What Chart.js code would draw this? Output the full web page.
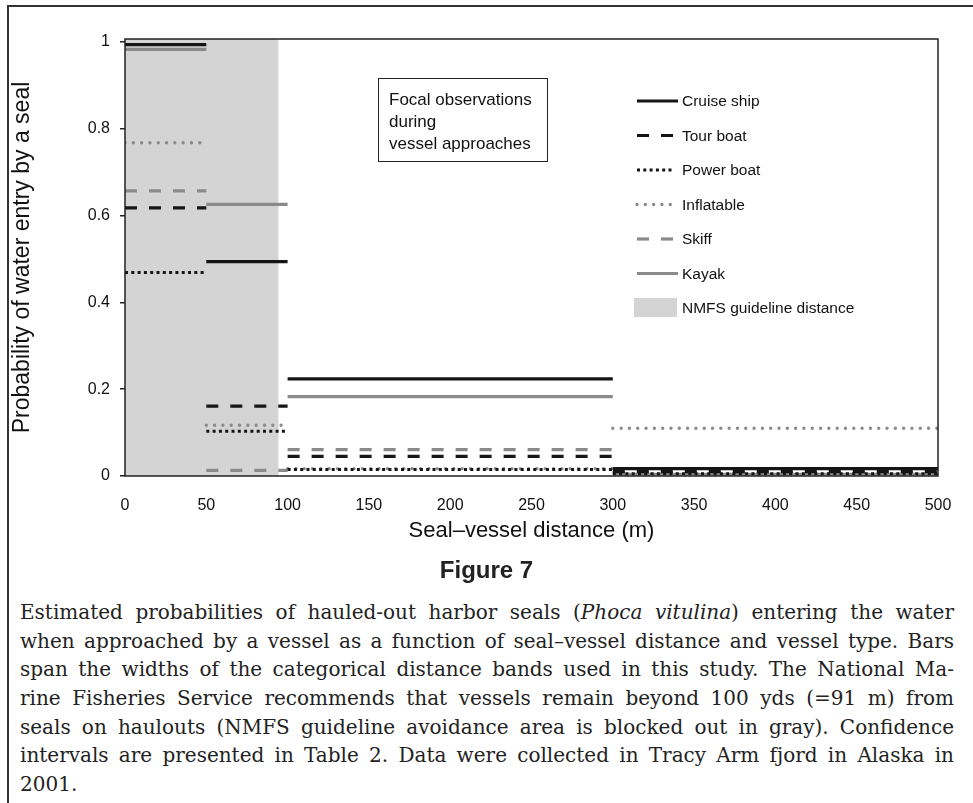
<!DOCTYPE html>
<html>
<head>
<meta charset="utf-8">
<script src="https://cdn.jsdelivr.net/npm/chart.js@4.4.1/dist/chart.umd.min.js"></script>
<style>
  html, body { margin: 0; padding: 0; background: #fff; }
  body { width: 973px; height: 803px; position: relative; overflow: hidden; }
  #frame { position: absolute; left: 7px; top: 5px; width: 980px; height: 820px;
           border-top: 2px solid #333; border-left: 2px solid #333; }
  #chart { position: absolute; left: 0; top: 0; }
  #figtitle { position: absolute; left: 0; top: 556px; width: 973px; text-align: center;
              font-family: "Liberation Sans Narrow", "Arial Narrow", "Liberation Sans", sans-serif;
              font-weight: bold; font-size: 24px; color: #222; }
  #caption { position: absolute; left: 20px; top: 598px; width: 934px;
             font-family: "DejaVu Serif", "Liberation Serif", serif; font-size: 17px; color: #222; }
  #caption div { height: 28.7px; line-height: 28.7px; text-align: justify; text-align-last: justify; }
  #caption div.last { text-align-last: left; }
  #measure { position: absolute; visibility: hidden; white-space: nowrap;
             font-family: "DejaVu Serif", "Liberation Serif", serif; font-size: 17px; }
</style>
</head>
<body>
<div id="frame"></div>
<canvas id="chart" width="973" height="560"></canvas>
<div id="figtitle">Figure 7</div>
<div id="caption">
  <div>Estimated probabilities of hauled-out harbor seals (<i>Phoca vitulina</i>) entering the water</div>
  <div>when approached by a vessel as a function of seal–vessel distance and vessel type. Bars</div>
  <div>span the widths of the categorical distance bands used in this study. The National Ma-</div>
  <div>rine Fisheries Service recommends that vessels remain beyond 100 yds (=91 m) from</div>
  <div>seals on haulouts (NMFS guideline avoidance area is blocked out in gray). Confidence</div>
  <div>intervals are presented in Table 2. Data were collected in Tracy Arm fjord in Alaska in</div>
  <div class="last">2001.</div>
</div>
<span id="measure"></span>
<script>
// ---- data ----
const bandEdges = [0, 50, 100, 300, 500];          // distance bands (m)
const cruiseShip = [0.994, 0.494, 0.224, 0.017];
const tourBoat   = [0.618, 0.161, 0.045, 0.010];
const powerBoat  = [0.469, 0.103, 0.015, 0.005];
const inflatable = [0.768, 0.117, 0.017, 0.110];
const skiff      = [0.657, 0.013, 0.061, 0.008];
const kayak      = [0.983, 0.626, 0.183, 0.004];
const nmfsDistance = 94.5;                          // shaded guideline area
const xTicks = [0, 50, 100, 150, 200, 250, 300, 350, 400, 450, 500];
const yTicks = [0, 0.2, 0.4, 0.6, 0.8, 1];
const yMax = 1.007;

const BLACK = '#151515';
const GRAY = '#8a8a8a';
const SHADE = '#d4d4d4';

// caption: pick a font size so the widest line nearly fills the column
(function fitCaption() {
    const m = document.getElementById('measure');
    const lines = document.querySelectorAll('#caption div');
    let maxW = 0;
    lines.forEach((d, i) => {
        if (i === lines.length - 1) return;
        m.innerHTML = d.innerHTML;
        maxW = Math.max(maxW, m.offsetWidth);
    });
    const size = Math.min(20, 17 * 905 / maxW);
    document.getElementById('caption').style.fontSize = size.toFixed(2) + 'px';
})();

// turn the band values into flat steps with breaks between bands
function steps(vals) {
    const pts = [];
    vals.forEach((v, i) => {
        pts.push({x: bandEdges[i], y: v});
        pts.push({x: bandEdges[i + 1], y: v});
        pts.push({x: bandEdges[i + 1], y: null});
    });
    return pts;
}

function series(label, vals, color, dash, width, cap) {
    return {
        label: label, data: steps(vals), borderColor: color, borderDash: dash,
        borderWidth: width, borderCapStyle: cap || 'butt', pointRadius: 0,
        fill: false, spanGaps: false, tension: 0, order: 0
    };
}

const datasets = [
    series('Cruise ship', cruiseShip, BLACK, [], 3.2),
    series('Tour boat', tourBoat, BLACK, [12, 12], 3.2),
    series('Power boat', powerBoat, BLACK, [3, 3.3], 3),
    series('Inflatable', inflatable, GRAY, [0.01, 8.3], 3.4, 'round'),
    series('Skiff', skiff, GRAY, [12, 12], 3.2),
    series('Kayak', kayak, GRAY, [], 3.2),
    {
        label: 'NMFS guideline distance',
        data: [{x: 0, y: yMax}, {x: nmfsDistance, y: yMax}],
        borderWidth: 0, borderColor: 'rgba(0,0,0,0)', backgroundColor: SHADE,
        fill: 'origin', pointRadius: 0, order: 5
    }
];

// ---- frame, text box and legend drawn on top ----
const decor = {
    id: 'decor',
    afterDatasetsDraw(chart) {
        const ctx = chart.ctx, a = chart.chartArea;
        ctx.save();
        ctx.strokeStyle = '#222';
        ctx.lineWidth = 1.5;
        ctx.strokeRect(a.left, a.top, a.right - a.left, a.bottom - a.top);

        // note box
        ctx.lineWidth = 1;
        ctx.strokeStyle = '#222';
        ctx.strokeRect(378.5, 78.5, 169, 83);
        ctx.fillStyle = '#111';
        ctx.font = '17px "Liberation Sans", Arial, sans-serif';
        ctx.textBaseline = 'middle';
        ctx.textAlign = 'left';
        ['Focal observations', 'during', 'vessel approaches'].forEach((t, i) => {
            ctx.fillText(t, 389, 100 + i * 22);
        });

        // legend
        ctx.font = '15.5px "Liberation Sans", Arial, sans-serif';
        chart.data.datasets.forEach((ds, i) => {
            const y = 101 + i * 34.5;
            if (ds.fill === 'origin') {
                ctx.fillStyle = ds.backgroundColor;
                ctx.fillRect(634, y - 10, 43, 19);
            } else {
                ctx.beginPath();
                ctx.setLineDash(ds.borderDash);
                ctx.lineCap = ds.borderCapStyle;
                ctx.lineWidth = ds.borderWidth;
                ctx.strokeStyle = ds.borderColor;
                ctx.moveTo(637, y);
                ctx.lineTo(ds.borderDash.length ? 673 : 678, y);
                ctx.stroke();
                ctx.setLineDash([]);
            }
            ctx.fillStyle = '#111';
            ctx.fillText(ds.label, 682, y + 1);
        });
        ctx.restore();
    }
};

new Chart(document.getElementById('chart'), {
    type: 'line',
    data: { datasets: datasets },
    options: {
        responsive: false,
        animation: false,
        devicePixelRatio: 1,
        layout: { padding: { left: 0, top: 39, right: 35, bottom: 16 } },
        plugins: { legend: { display: false }, tooltip: { enabled: false } },
        scales: {
            x: {
                type: 'linear', min: 0, max: 500,
                afterBuildTicks: s => { s.ticks = xTicks.map(v => ({value: v})); },
                afterFit: s => { s.height = 68; },
                grid: { display: false },
                border: { display: false },
                ticks: { padding: 12, color: '#111', font: { family: '"Liberation Sans", Arial', size: 16 } },
                title: { display: true, text: 'Seal–vessel distance (m)', color: '#111',
                         padding: { top: 0, bottom: 0 }, font: { family: '"Liberation Sans", Arial', size: 22 } }
            },
            y: {
                type: 'linear', min: 0, max: yMax,
                afterBuildTicks: s => { s.ticks = yTicks.map(v => ({value: v})); },
                afterFit: s => { s.width = 125; },
                grid: { drawOnChartArea: false, drawTicks: true, tickLength: 5, color: '#222', lineWidth: 1.5 },
                border: { display: false },
                ticks: { padding: 10, color: '#111', font: { family: '"Liberation Sans", Arial', size: 16 },
                         callback: v => (v === 0 || v === 1) ? String(v) : v.toFixed(1) },
                title: { display: true, text: 'Probability of water entry by a seal', color: '#111',
                         padding: { top: 9, bottom: 0 }, font: { family: '"Liberation Sans", Arial', size: 23 } }
            }
        }
    },
    plugins: [decor]
});
</script>
</body>
</html>
